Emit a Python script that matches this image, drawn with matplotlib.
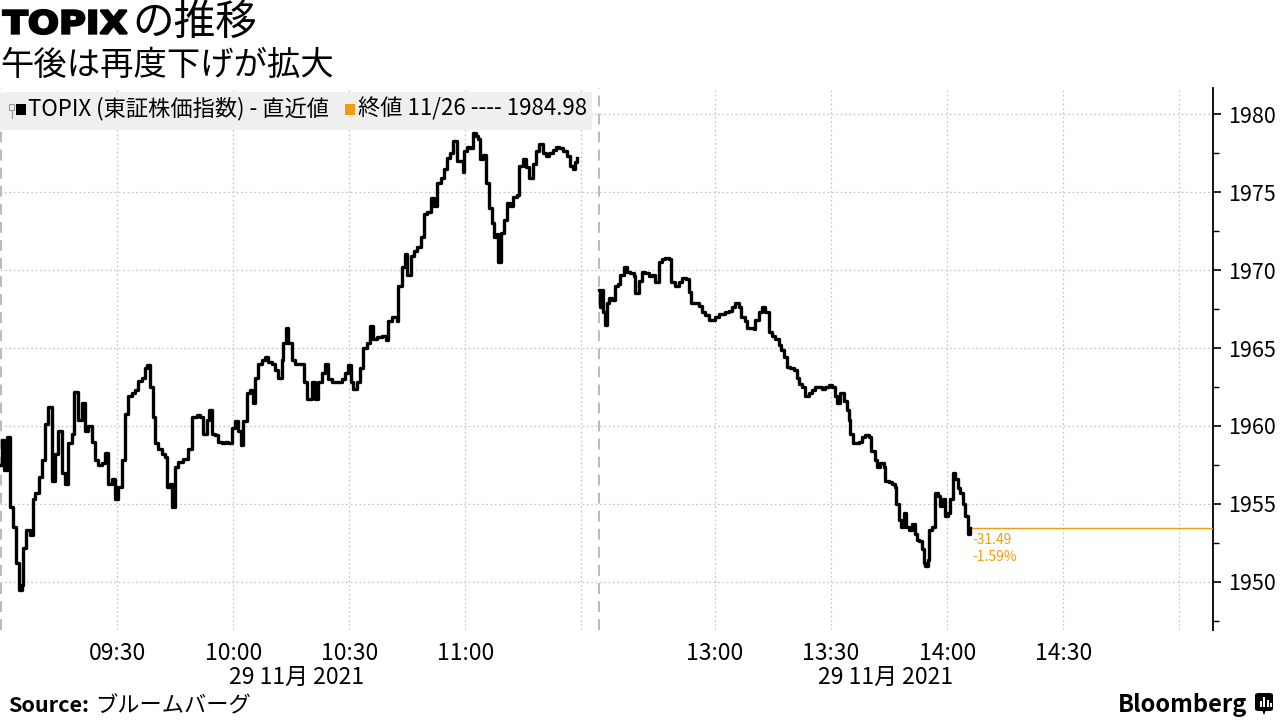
import matplotlib
matplotlib.use('Agg')
import matplotlib.pyplot as plt
from matplotlib.patches import Rectangle, FancyBboxPatch, PathPatch, Polygon
from matplotlib.textpath import TextPath
from matplotlib.font_manager import FontProperties
from matplotlib.ticker import MultipleLocator
import matplotlib.transforms as mtransforms

plt.rcParams['font.family'] = ['Noto Sans CJK JP', 'DejaVu Sans']

# 前場: 9:00 からの経過分 / 値
am_minutes = [0.0, 0.3, 0.8, 1.6, 2.3, 3.1, 3.9, 4.7, 5.4, 5.7, 6.5, 7.5, 8.3, 8.8, 9.8,
              10.6, 11.4, 12.1, 13.2, 14.0, 14.7, 15.8, 16.5, 17.3, 18.3, 18.9, 19.9,
              20.9, 21.7, 22.5, 23.5, 24.3, 25.1, 26.1, 26.9, 27.6, 28.7, 29.5, 30.2,
              31.3, 32.0, 32.8, 33.9, 34.6, 35.4, 36.4, 37.2, 37.7, 38.5, 39.3, 39.8,
              40.6, 41.6, 42.4, 42.9, 43.7, 44.2, 45.0, 45.7, 47.0, 48.3, 49.4, 50.6,
              51.4, 52.2, 53.2, 53.7, 54.5, 55.3, 56.1, 57.1, 57.9, 58.7, 59.7, 60.5,
              61.2, 62.0, 62.5, 63.6, 64.3, 65.1, 65.6, 66.4, 67.4, 68.2, 69.0, 70.0,
              70.8, 71.6, 72.6, 72.9, 73.6, 74.2, 75.2, 76.0, 76.7, 77.8, 78.3, 79.1,
              80.4, 81.1, 81.9, 82.9, 83.7, 84.5, 85.5, 86.8, 88.1, 88.9, 89.7, 90.4,
              91.0, 92.0, 92.8, 93.5, 94.6, 95.3, 96.1, 97.2, 98.4, 99.5, 100.0, 101.0,
              102.3, 102.6, 103.6, 104.4, 104.9, 105.9, 106.7, 107.5, 108.5, 109.3,
              110.1, 111.1, 111.9, 112.7, 113.7, 114.5, 115.2, 116.0, 116.8, 117.8,
              118.6, 119.4, 119.6, 120.4, 121.2, 122.0, 122.7, 123.3, 123.8, 124.5,
              125.3, 126.1, 126.9, 127.4, 128.2, 128.4, 129.2, 130.0, 130.7, 131.5,
              132.3, 133.3, 133.9, 134.9, 135.7, 136.4, 137.5, 138.2, 139.0, 140.1,
              140.8, 141.6, 142.6, 143.4, 144.2, 145.2, 146.3, 147.0, 147.8, 148.3, 148.8]
am_values = [1957.5, 1959.1, 1957.2, 1959.3, 1954.8, 1953.5, 1951.2, 1949.5, 1949.8, 1952.2,
             1953.3, 1953.0, 1955.3, 1955.7, 1956.7, 1957.8, 1960.1, 1961.2, 1956.5, 1958.2,
             1959.7, 1957.0, 1956.3, 1958.9, 1959.5, 1962.2, 1960.4, 1961.5, 1959.7, 1960.0,
             1959.0, 1957.8, 1957.5, 1957.6, 1958.3, 1956.3, 1956.6, 1955.3, 1956.1, 1957.8,
             1960.8, 1961.9, 1962.1, 1962.3, 1962.9, 1963.1, 1963.7, 1963.9, 1962.5, 1960.6,
             1958.9, 1958.5, 1958.2, 1958.0, 1956.1, 1956.3, 1954.8, 1957.4, 1957.7, 1957.9,
             1958.5, 1960.6, 1960.7, 1960.6, 1959.5, 1960.4, 1961.0, 1959.5, 1959.4, 1959.0,
             1958.9, 1959.0, 1958.9, 1959.9, 1960.3, 1959.7, 1958.8, 1960.3, 1962.1, 1962.3,
             1961.5, 1963.1, 1964.0, 1964.2, 1964.4, 1964.1, 1964.0, 1963.6, 1963.1, 1964.2,
             1965.3, 1966.3, 1965.3, 1964.2, 1964.0, 1964.0, 1964.0, 1962.8, 1961.7, 1962.8,
             1961.7, 1962.8, 1963.4, 1964.0, 1963.0, 1962.8, 1962.8, 1963.0, 1963.4, 1963.9,
             1962.8, 1962.4, 1962.8, 1963.7, 1965.0, 1965.3, 1966.4, 1965.6, 1965.7, 1965.8,
             1965.5, 1966.7, 1967.0, 1966.7, 1969.0, 1970.2, 1971.0, 1969.7, 1970.9, 1971.2,
             1971.5, 1972.1, 1973.6, 1973.7, 1974.6, 1974.1, 1975.6, 1975.9, 1976.5, 1977.2,
             1977.5, 1978.3, 1977.0, 1977.0, 1976.3, 1977.6, 1977.9, 1977.8, 1978.8, 1978.6,
             1978.4, 1977.1, 1977.4, 1975.6, 1974.0, 1973.0, 1972.1, 1972.3, 1970.5, 1972.4,
             1973.2, 1974.3, 1974.1, 1974.7, 1974.8, 1976.7, 1977.1, 1976.6, 1975.9, 1976.8,
             1977.6, 1978.1, 1977.5, 1977.3, 1977.5, 1977.7, 1977.9, 1977.8, 1977.6, 1977.3,
             1976.7, 1976.5, 1976.9, 1977.2]

# 後場: 12:30 からの経過分 / 値
pm_minutes = [0.0, 0.3, 0.8, 1.0, 1.6, 2.1, 2.6, 3.4, 4.1, 4.9, 5.4, 6.5, 7.2, 8.0, 9.0,
              9.3, 10.3, 11.1, 11.9, 12.9, 13.7, 14.5, 15.5, 16.3, 17.1, 18.1, 18.6,
              19.6, 20.7, 21.4, 22.5, 23.3, 23.8, 24.8, 25.8, 26.6, 27.4, 28.4, 29.2,
              30.0, 31.0, 31.8, 32.6, 33.6, 34.4, 35.1, 36.2, 36.7, 37.7, 38.2, 39.0,
              40.1, 40.3, 41.3, 42.1, 42.9, 43.9, 44.7, 45.5, 46.5, 47.0, 47.8, 48.6,
              49.4, 50.4, 51.2, 51.7, 52.5, 53.2, 54.3, 55.0, 55.8, 56.8, 57.6, 58.4,
              59.4, 60.2, 61.0, 61.5, 62.3, 63.3, 64.1, 64.6, 64.9, 65.6, 66.1, 67.2,
              68.0, 68.7, 69.8, 70.3, 71.3, 71.8, 72.6, 73.6, 73.9, 74.9, 75.7, 76.5,
              76.7, 77.5, 78.0, 78.8, 79.3, 80.1, 80.9, 81.7, 82.2, 82.7, 83.5, 84.0,
              84.2, 85.0, 85.3, 86.0, 86.6, 86.8, 87.6, 88.1, 88.9, 89.4, 90.2, 90.7,
              91.5, 92.0, 92.8, 93.3, 94.1, 94.6, 95.3, 95.9]
pm_values = [1968.7, 1967.6, 1968.7, 1967.3, 1966.5, 1967.9, 1968.2, 1968.1, 1969.0, 1969.1,
             1969.7, 1970.2, 1969.9, 1969.8, 1969.6, 1968.5, 1969.3, 1969.9, 1969.8, 1969.6,
             1969.7, 1969.2, 1970.5, 1970.7, 1970.8, 1970.7, 1969.2, 1969.0, 1969.2, 1969.5,
             1969.4, 1968.6, 1967.9, 1967.9, 1967.7, 1967.3, 1967.1, 1966.8, 1966.8, 1967.0,
             1967.2, 1967.2, 1967.3, 1967.4, 1967.6, 1967.9, 1967.6, 1967.0, 1966.7, 1966.3,
             1966.3, 1966.2, 1966.8, 1967.3, 1967.6, 1967.3, 1966.0, 1965.8, 1965.6, 1965.2,
             1964.9, 1964.4, 1963.8, 1963.7, 1963.6, 1963.1, 1962.7, 1962.5, 1961.9, 1962.1,
             1962.3, 1962.5, 1962.5, 1962.4, 1962.5, 1962.6, 1962.5, 1961.9, 1961.5, 1962.1,
             1961.6, 1961.0, 1960.4, 1959.5, 1958.9, 1958.9, 1959.0, 1959.3, 1959.4, 1959.3,
             1958.4, 1957.8, 1957.4, 1957.6, 1957.4, 1956.5, 1956.4, 1956.3, 1956.1, 1955.0,
             1954.0, 1953.5, 1954.4, 1953.5, 1953.3, 1953.7, 1953.1, 1952.7, 1952.6, 1952.1,
             1951.2, 1951.0, 1951.4, 1953.3, 1953.5, 1953.5, 1955.7, 1955.5, 1954.9, 1955.3,
             1954.2, 1954.4, 1955.3, 1957.0, 1956.6, 1956.0, 1955.7, 1955.0, 1954.2, 1953.1,
             1953.49]

prev_close = 1984.98
tick_labels_am = ['09:30', '10:00', '10:30', '11:00', '']
tick_labels_pm = ['13:00', '13:30', '14:00', '14:30', '']
date_label = '29 11月 2021'

ORANGE = '#f39c12'
GAP = 4.5  # 昼休みを詰めた幅（分）


def pm_x(m):
    return 150 + GAP + m


def px(x, y):
    """画素座標 -> 図座標"""
    return x / 1280, 1 - y / 720


def draw_wide_text(fig, text, x, y, height, width, weight='bold'):
    """幅と高さを指定して文字をパスで描く（x, y は左下の画素座標）"""
    tp = TextPath((0, 0), text, size=100, prop=FontProperties(family='DejaVu Sans', weight=weight))
    ext = tp.get_extents()
    sx = width / ext.width
    sy = height / ext.height
    tr = (mtransforms.Affine2D().translate(-ext.x0, -ext.y0).scale(sx, sy)
          .translate(x, 720 - y))
    patch = PathPatch(tr.transform_path(tp), facecolor='black', edgecolor='black', lw=1.6,
                      joinstyle='miter', transform=mtransforms.IdentityTransform())
    fig.add_artist(patch)


def main():
    fig = plt.figure(figsize=(12.8, 7.2), dpi=100)
    ax = fig.add_axes([0, 90 / 720, 1213 / 1280, 542 / 720])

    ax.set_xlim(-0.26, 313.2)
    ax.set_ylim(1946.92, 1981.67)

    xs_pm = [pm_x(m) for m in pm_minutes]
    ax.plot(am_minutes, am_values, color='black', lw=2.4, drawstyle='steps-post', zorder=4)
    ax.plot(xs_pm, pm_values, color='black', lw=2.4, drawstyle='steps-post', zorder=4)

    # 終値ライン
    last = pm_values[-1]
    change = last - prev_close
    pct = change / prev_close * 100
    ax.plot([xs_pm[-1] + 0.5, 313.2], [last, last], color=ORANGE, lw=1.0, zorder=3)
    ax.annotate(f'{change:.2f}', xy=(xs_pm[-1], last), xytext=(1.5, -9),
                textcoords='offset points', color=ORANGE, fontsize=10, va='center')
    ax.annotate(f'{pct:.2f}%', xy=(xs_pm[-1], last), xytext=(1.5, -21),
                textcoords='offset points', color=ORANGE, fontsize=10, va='center')

    # 軸
    for s in ['top', 'left', 'bottom']:
        ax.spines[s].set_visible(False)
    ax.spines['right'].set_linewidth(1.3)
    ax.yaxis.tick_right()
    ax.yaxis.set_major_locator(MultipleLocator(5))
    ax.yaxis.set_minor_locator(MultipleLocator(2.5))
    ax.tick_params(axis='y', which='major', length=6, width=1.2, pad=5, labelsize=15.5)
    ax.tick_params(axis='y', which='minor', length=4, width=1.0)

    xticks = [30, 60, 90, 120, 150] + [pm_x(m) for m in [30, 60, 90, 120, 150]]
    ax.set_xticks(xticks)
    ax.set_xticklabels(tick_labels_am + tick_labels_pm)
    ax.tick_params(axis='x', length=0, pad=9, labelsize=16.5)

    ax.set_axisbelow(True)
    ax.grid(True, which='major', color='#c8c8c8', ls=(0, (1.5, 2)), lw=0.9)

    for xv in [0, pm_x(0)]:
        ax.axvline(xv, color='#b4b4b4', lw=1.3, ls=(0, (6, 4)), zorder=1)

    # 日付
    trans = mtransforms.blended_transform_factory(ax.transData, fig.transFigure)
    ax.text(76.5, 1 - 677 / 720, date_label, transform=trans, ha='center', va='center', fontsize=16.5)
    ax.text(pm_x(74), 1 - 677 / 720, date_label, transform=trans, ha='center', va='center', fontsize=16.5)

    # 凡例帯
    band = Rectangle((0, (630 - 130) / 542), pm_x(0) / 313.2 - 0.005, 38 / 542,
                     transform=ax.transAxes, facecolor='#efefef', edgecolor='none', zorder=2)
    ax.add_patch(band)
    fig.add_artist(Rectangle(px(9, 110), 5 / 1280, 6 / 720, transform=fig.transFigure,
                             facecolor='none', edgecolor='#999999', lw=0.8))
    fig.add_artist(plt.Line2D([11.5 / 1280, 11.5 / 1280], [1 - 110 / 720, 1 - 118 / 720],
                              color='#999999', lw=0.8))
    fig.add_artist(Rectangle(px(16, 115), 10 / 1280, 11 / 720, transform=fig.transFigure,
                             facecolor='black', edgecolor='none'))
    fig.text(*px(28, 109), 'TOPIX (東証株価指数) - 直近値', fontsize=16, va='center')
    fig.add_artist(Rectangle(px(345, 115), 10 / 1280, 11 / 720, transform=fig.transFigure,
                             facecolor=ORANGE, edgecolor='none'))
    fig.text(*px(358, 109), f'終値 11/26 ---- {prev_close:.2f}', fontsize=16, va='center')

    # タイトル
    draw_wide_text(fig, 'TOPIX', 3, 34, 24, 124)
    fig.text(*px(132, 35), 'の推移', fontsize=30, va='baseline')
    fig.text(*px(0, 65), '午後は再度下げが拡大', fontsize=24, va='center')

    # ソース
    s1 = fig.text(*px(8, 706), 'Source:', fontsize=15.5, fontweight='bold', va='center')
    fig.canvas.draw()
    bb = s1.get_window_extent()
    fig.text(bb.x1 / 1280 + 0.005, 1 - 706 / 720, 'ブルームバーグ', fontsize=16,
             style='italic', va='center')

    fig.text(*px(1247, 705), 'Bloomberg', fontsize=17, fontweight='bold', ha='right', va='center')
    fig.add_artist(FancyBboxPatch(px(1255, 711), 18 / 1280, 18 / 720,
                                  boxstyle='round,pad=0,rounding_size=0.003',
                                  transform=fig.transFigure, facecolor='black', edgecolor='none'))
    fig.add_artist(Polygon([px(1262, 710), px(1266, 710), px(1264, 715)], closed=True,
                           transform=fig.transFigure, facecolor='black', edgecolor='none'))
    for bx, bh in [(1259.5, 6), (1263, 10), (1266.5, 7), (1270, 4)]:
        fig.add_artist(Rectangle(px(bx, 707), 2 / 1280, bh / 720, transform=fig.transFigure,
                                 facecolor='white', edgecolor='none'))

    fig.savefig('out.png', dpi=100, facecolor='white')
    plt.close(fig)


if __name__ == '__main__':
    main()
